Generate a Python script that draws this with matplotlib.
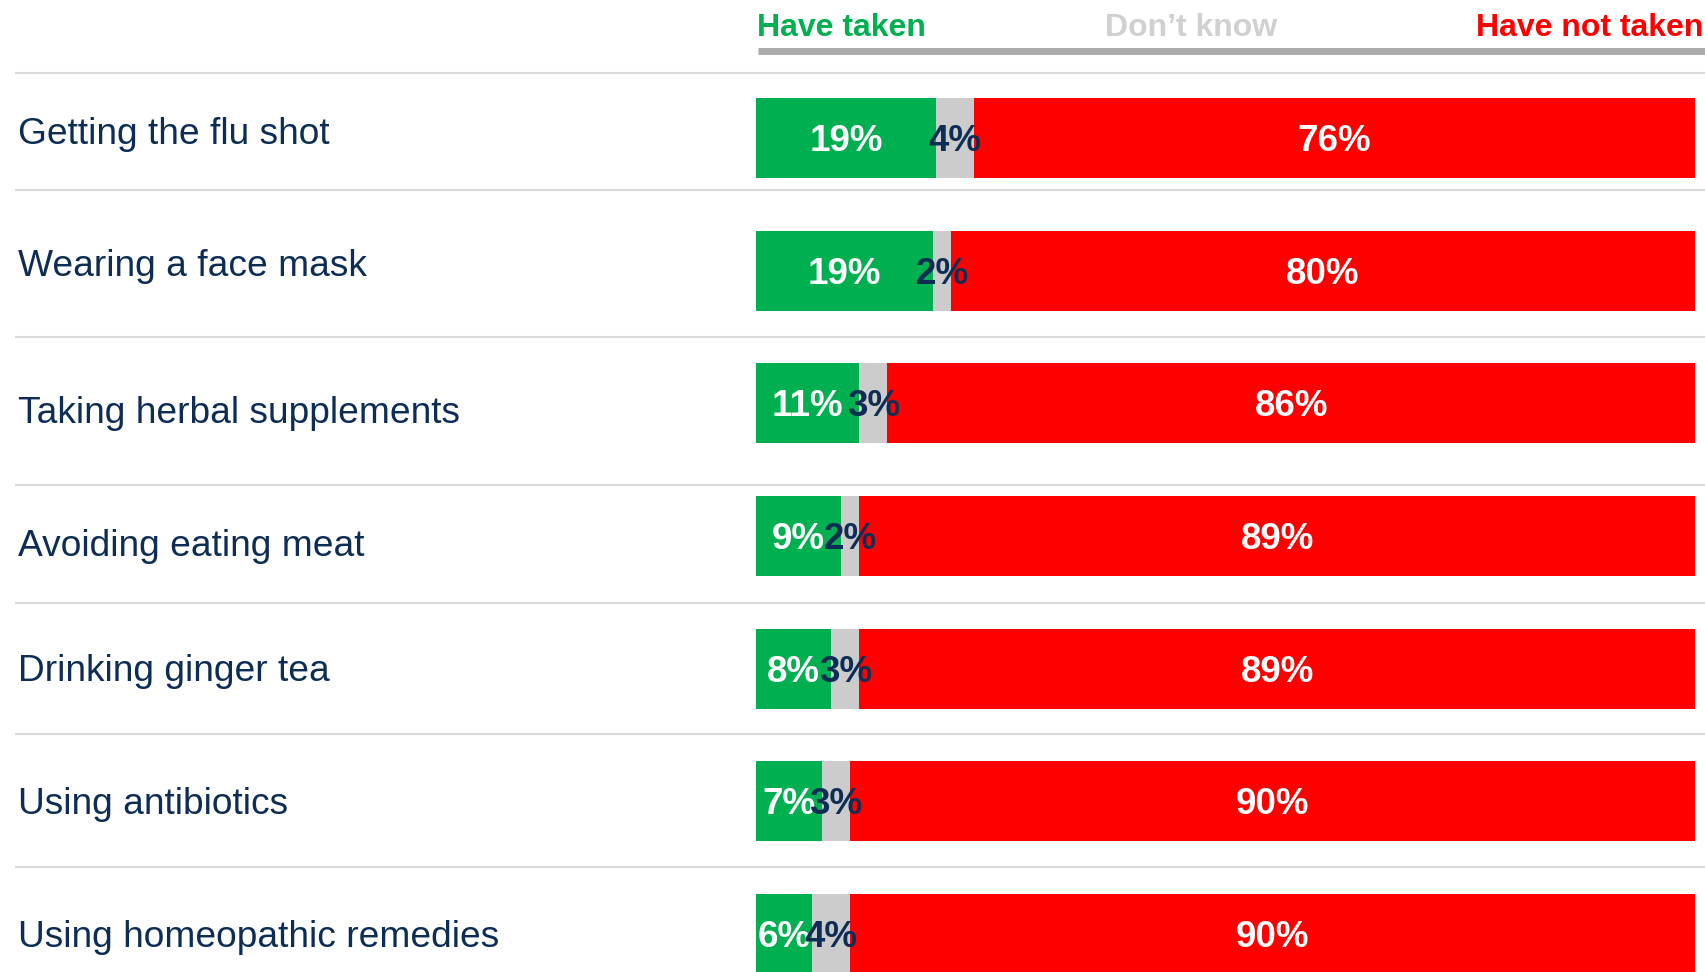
import matplotlib
matplotlib.use("Agg")
import matplotlib.pyplot as plt
from matplotlib.lines import Line2D
import numpy as np

plt.rcParams['font.family'] = ['Liberation Sans', 'DejaVu Sans']

categories = ["Getting the flu shot", "Wearing a face mask", "Taking herbal supplements",
              "Avoiding eating meat", "Drinking ginger tea", "Using antibiotics",
              "Using homeopathic remedies"]
have_taken = [19, 19, 11, 9, 8, 7, 6]
dont_know = [4, 2, 3, 2, 3, 3, 4]
have_not_taken = [76, 80, 86, 89, 89, 90, 90]
series_names = ["Have taken", "Don\u2019t know", "Have not taken"]

GREEN = "#00B050"
GRAY = "#CCCCCC"
RED = "#FF0000"
NAVY = "#0E2D55"

W, H = 1706, 972
fig = plt.figure(figsize=(W / 100, H / 100), dpi=100)

# layout (pixels)
bar_left, bar_right = 756, 1695
row0, row_step = 138, 132.67
bar_h_px = 80
sep_y = [73, 190, 337, 485, 603, 734, 867]
label_dy = [-3, -4, 10, 10, 3, 3, 3]

ax = fig.add_axes([bar_left / W, 0, (bar_right - bar_left) / W, 1])
ax.set_xlim(0, 100)
ax.set_ylim((H - row0) / row_step, -row0 / row_step)
ax.axis('off')

ht = np.array(have_taken, float)
dk = np.array(dont_know, float)
nt = np.array(have_not_taken, float)
tot = ht + dk + nt
ht_n, dk_n, nt_n = ht / tot * 100, dk / tot * 100, nt / tot * 100
y = np.arange(len(categories))
bh = bar_h_px / row_step

ax.barh(y, ht_n, height=bh, color=GREEN, linewidth=0)
ax.barh(y, dk_n, left=ht_n, height=bh, color=GRAY, linewidth=0)
ax.barh(y, nt_n, left=ht_n + dk_n, height=bh, color=RED, linewidth=0)

def pct(xv, yv, s, c):
    ax.annotate(s, (xv, yv), xytext=(0, -2.4), textcoords='offset points',
                ha='center', va='center', color=c, fontsize=26.5, fontweight='bold')

for i in range(len(categories)):
    pct(ht_n[i] / 2, y[i], f"{have_taken[i]}%", 'white')
    pct(ht_n[i] + dk_n[i] / 2, y[i], f"{dont_know[i]}%", NAVY)
    pct(ht_n[i] + dk_n[i] + nt_n[i] / 2, y[i], f"{have_not_taken[i]}%", 'white')
    fig.text(18 / W, 1 - (row0 + row_step * i + label_dy[i]) / H, categories[i],
             ha='left', va='center', color=NAVY, fontsize=26.7)

for sy in sep_y:
    fig.add_artist(Line2D([16 / W, 1], [1 - sy / H, 1 - sy / H], color="#D9D9D9",
                          linewidth=1.5, transform=fig.transFigure))

# header legend
fig.add_artist(Line2D([758 / W, 1], [1 - 51.5 / H, 1 - 51.5 / H], color="#AAAAAA",
                      linewidth=5, transform=fig.transFigure, solid_capstyle='butt'))
hy = 1 - 28 / H
fig.text(757 / W, hy, series_names[0], ha='left', va='center', color=GREEN,
         fontsize=23, fontweight='bold')
fig.text(1191 / W, hy, series_names[1], ha='center', va='center', color="#D0D0D0",
         fontsize=23, fontweight='bold')
fig.text(1703 / W, hy, series_names[2], ha='right', va='center', color=RED,
         fontsize=23, fontweight='bold')

fig.savefig("out.png", dpi=100, facecolor='white')
